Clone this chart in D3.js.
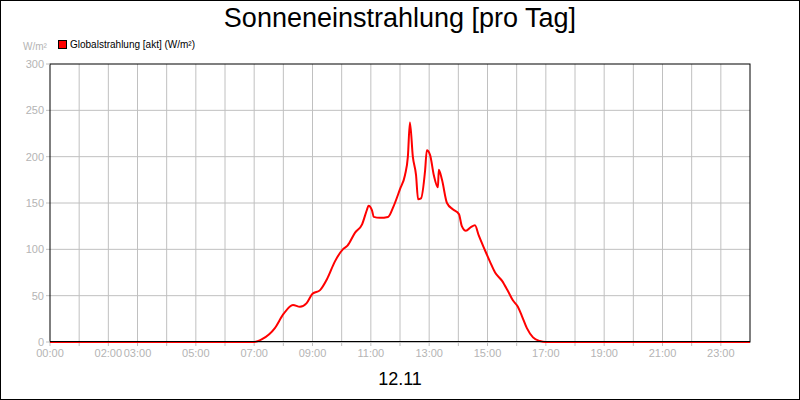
<!DOCTYPE html>
<html><head><meta charset="utf-8">
<script src="https://cdn.jsdelivr.net/npm/d3@7"></script>
<style>body{margin:0}svg{display:block;font-family:"Liberation Sans",Arial,sans-serif}</style>
</head><body><svg id="c" width="800" height="400"></svg>
<script>
var hours = [0,7.0,7.27,7.71,8.0,8.33,8.57,8.8,9.0,9.26,9.5,9.77,10.04,10.2,10.46,10.7,10.87,10.92,11.04,11.1,11.31,11.59,11.76,12.0,12.17,12.27,12.34,12.44,12.55,12.62,12.72,12.86,12.92,13.03,13.16,13.3,13.33,13.44,13.61,13.82,14.02,14.12,14.26,14.43,14.57,14.7,14.9,15.08,15.26,15.5,15.7,15.87,16.04,16.18,16.35,16.56,16.8,17.0,24];
var values = [0,0,3,15,30,40,38,42,52,56,68,87,100,104,118,127,143,147,142,135,134,135,145,165,180,200,237,200,180,154,155,185,207,202,180,167,186,175,150,143,138,125,120,124,126,115,100,87,75,66,55,45,38,28,15,5,1,0,0];
var tickHours = [0,2,3,5,7,9,11,13,15,17,19,21,23];
var yTicks = [0,50,100,150,200,250,300];

var svg = d3.select("#c");
svg.append("rect").attr("x",0.5).attr("y",0.5).attr("width",799).attr("height",399).attr("fill","#fff").attr("stroke","#000");
var x = d3.scaleLinear().domain([0,24]).range([50,750]);
var y = d3.scaleLinear().domain([0,300]).range([342,64]);

// grid
svg.append("g").selectAll("line").data(d3.range(1,24)).enter().append("line")
  .attr("x1",d=>x(d)).attr("x2",d=>x(d)).attr("y1",64).attr("y2",346).attr("stroke","#c0c0c0");
svg.append("g").selectAll("line").data(yTicks.slice(1,-1)).enter().append("line")
  .attr("x1",46).attr("x2",750).attr("y1",d=>y(d)).attr("y2",d=>y(d)).attr("stroke","#c0c0c0");
svg.append("rect").attr("x",50).attr("y",64).attr("width",700).attr("height",278).attr("fill","none").attr("stroke","#000");
svg.append("line").attr("x1",46).attr("x2",50).attr("y1",64).attr("y2",64).attr("stroke","#c0c0c0");
svg.append("line").attr("x1",46).attr("x2",50).attr("y1",342).attr("y2",342).attr("stroke","#c0c0c0");
svg.append("line").attr("x1",50).attr("x2",50).attr("y1",342).attr("y2",346).attr("stroke","#c0c0c0");
svg.append("line").attr("x1",50).attr("x2",750).attr("y1",342.5).attr("y2",342.5).attr("stroke","#c0c0c0");

svg.append("g").selectAll("text").data(yTicks).enter().append("text")
  .attr("x",44).attr("y",d=>y(d)+4).attr("text-anchor","end").attr("font-size",11).attr("fill","#b4b4b4").text(d=>d);
svg.append("g").selectAll("text").data(tickHours).enter().append("text")
  .attr("x",d=>x(d)).attr("y",357).attr("text-anchor","middle").attr("font-size",11).attr("fill","#b4b4b4")
  .text(d=>(d<10?"0":"")+d+":00");

var line = d3.line().x((d,i)=>x(hours[i])).y(d=>y(d)).curve(d3.curveMonotoneX);
svg.append("path").datum(values).attr("d",line).attr("fill","none").attr("stroke","#ff0000").attr("stroke-width",2);
svg.append("line").attr("x1",50).attr("x2",750).attr("y1",341.5).attr("y2",341.5).attr("stroke","#000");

svg.append("text").attr("x",400).attr("y",27).attr("text-anchor","middle").attr("font-size",27).text("Sonneneinstrahlung [pro Tag]");
svg.append("text").attr("x",23).attr("y",50).attr("font-size",10).attr("fill","#b4b4b4").text("W/m²");
svg.append("rect").attr("x",58.5).attr("y",40.5).attr("width",8).attr("height",8).attr("fill","#ff0000").attr("stroke","#000");
svg.append("text").attr("x",70).attr("y",48).attr("font-size",10).text("Globalstrahlung [akt] (W/m²)");
svg.append("text").attr("x",400).attr("y",385).attr("text-anchor","middle").attr("font-size",18).text("12.11");
</script></body></html>
